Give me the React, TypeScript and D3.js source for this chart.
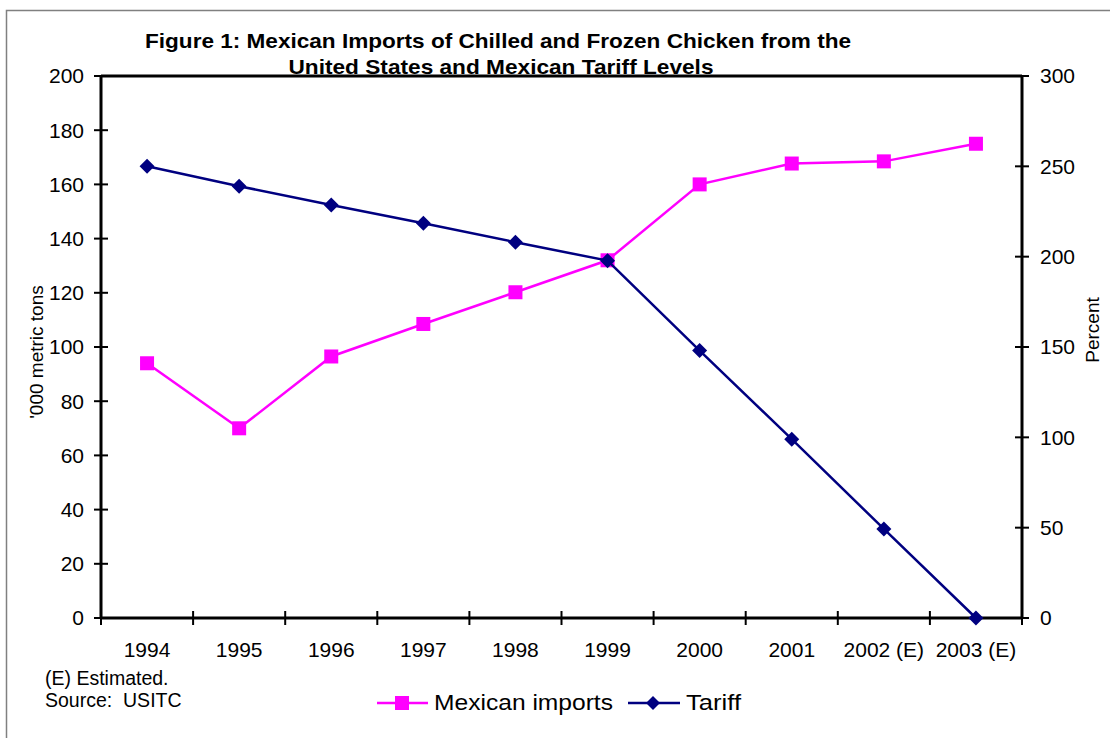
import React from "react";
import * as d3 from "d3";

const categories = ["1994", "1995", "1996", "1997", "1998", "1999", "2000", "2001", "2002 (E)", "2003 (E)"];
const mexicanImports = [94, 70, 96.5, 108.5, 120.2, 132, 160, 167.7, 168.5, 175];
const tariff = [250, 239, 228.6, 218.5, 208, 197.8, 148, 99, 49.3, 0];
const leftTicks = [0, 20, 40, 60, 80, 100, 120, 140, 160, 180, 200];
const rightTicks = [0, 50, 100, 150, 200, 250, 300];
const titleLines = [
  "Figure 1: Mexican Imports of Chilled and Frozen Chicken from the",
  "United States and Mexican Tariff Levels",
];

const FONT = "'Liberation Sans', Arial, Helvetica, sans-serif";
const MAGENTA = "#FF00FF";
const NAVY = "#000080";

export default function App() {
  const L = 101, R = 1022, T = 76, B = 618;
  const x = d3.scaleBand<string>().domain(categories).range([L, R]).padding(0);
  const yL = d3.scaleLinear().domain([0, 200]).range([B, T]);
  const yR = d3.scaleLinear().domain([0, 300]).range([B, T]);
  const cx = (c: string) => (x(c) as number) + x.bandwidth() / 2;

  const lineImports = d3
    .line<number>()
    .x((_, i) => cx(categories[i]))
    .y((d) => yL(d))(mexicanImports) as string;
  const lineTariff = d3
    .line<number>()
    .x((_, i) => cx(categories[i]))
    .y((d) => yR(d))(tariff) as string;

  const sq = 14;
  const dm = 7.5;
  const diamond = (px: number, py: number, r: number) =>
    `M${px},${py - r}L${px + r},${py}L${px},${py + r}L${px - r},${py}Z`;

  const boundaries = categories.map((c) => x(c) as number).concat([R]);

  return (
    <svg
      width={1110}
      height={738}
      style={{ position: "absolute", left: 0, top: 0, background: "#fff" }}
      fontFamily={FONT}
    >
      <rect x={0} y={0} width={1110} height={738} fill="#fff" />
      {/* outer border */}
      <rect x={6.5} y={10.5} width={1120} height={740} fill="none" stroke="#808080" strokeWidth={1.5} />

      {/* title */}
      <text x={498} y={48} fontSize={21} fontWeight="bold" textAnchor="middle" textLength={706} lengthAdjust="spacingAndGlyphs">
        {titleLines[0]}
      </text>
      <text x={501} y={74} fontSize={21} fontWeight="bold" textAnchor="middle" textLength={425} lengthAdjust="spacingAndGlyphs">
        {titleLines[1]}
      </text>

      {/* plot frame */}
      <line x1={L} x2={R} y1={T} y2={T} stroke="#000" strokeWidth={3} />
      <line x1={L} x2={L} y1={T} y2={B} stroke="#000" strokeWidth={3} />
      <line x1={R} x2={R} y1={T} y2={B} stroke="#000" strokeWidth={3} />
      <line x1={L} x2={R} y1={B} y2={B} stroke="#000" strokeWidth={3} />

      {/* left ticks */}
      {leftTicks.map((t) => (
        <g key={"l" + t}>
          <line x1={L - 7} x2={L + 7} y1={yL(t)} y2={yL(t)} stroke="#000" strokeWidth={2} />
          <text x={84} y={yL(t)} dy="0.35em" fontSize={21} textAnchor="end">
            {t}
          </text>
        </g>
      ))}
      {/* right ticks */}
      {rightTicks.map((t) => (
        <g key={"r" + t}>
          <line x1={R - 7} x2={R + 7} y1={yR(t)} y2={yR(t)} stroke="#000" strokeWidth={2} />
          <text x={1040} y={yR(t)} dy="0.35em" fontSize={21} textAnchor="start">
            {t}
          </text>
        </g>
      ))}
      {/* bottom ticks */}
      {boundaries.map((bx, i) => (
        <line key={"b" + i} x1={bx} x2={bx} y1={B - 7} y2={B + 7} stroke="#000" strokeWidth={2} />
      ))}
      {categories.map((c) => (
        <text key={"c" + c} x={cx(c)} y={657} fontSize={21} textAnchor="middle">
          {c}
        </text>
      ))}

      {/* axis titles */}
      <text transform={`translate(43,352) rotate(-90)`} fontSize={19} textAnchor="middle">
        '000 metric tons
      </text>
      <text transform={`translate(1099,330) rotate(-90)`} fontSize={19} textAnchor="middle">
        Percent
      </text>

      {/* series */}
      <path d={lineImports} fill="none" stroke={MAGENTA} strokeWidth={2.5} />
      {mexicanImports.map((v, i) => (
        <rect key={"s" + i} x={cx(categories[i]) - sq / 2} y={yL(v) - sq / 2} width={sq} height={sq} fill={MAGENTA} />
      ))}
      <path d={lineTariff} fill="none" stroke={NAVY} strokeWidth={2.5} />
      {tariff.map((v, i) => (
        <path key={"d" + i} d={diamond(cx(categories[i]), yR(v), dm)} fill={NAVY} />
      ))}

      {/* notes */}
      <text x={45} y={685} fontSize={19.5}>(E) Estimated.</text>
      <text x={45} y={707} fontSize={19.5} style={{ whiteSpace: "pre" }}>
        {"Source:  USITC"}
      </text>

      {/* legend */}
      <line x1={377} x2={428} y1={703} y2={703} stroke={MAGENTA} strokeWidth={2.5} />
      <rect x={402 - 7} y={703 - 7} width={14} height={14} fill={MAGENTA} />
      <text x={434} y={710} fontSize={22} textLength={179} lengthAdjust="spacingAndGlyphs">
        Mexican imports
      </text>
      <line x1={628} x2={680} y1={703} y2={703} stroke={NAVY} strokeWidth={2.5} />
      <path d={diamond(653, 703, 7)} fill={NAVY} />
      <text x={686} y={710} fontSize={22} textLength={55} lengthAdjust="spacingAndGlyphs">
        Tariff
      </text>
    </svg>
  );
}
